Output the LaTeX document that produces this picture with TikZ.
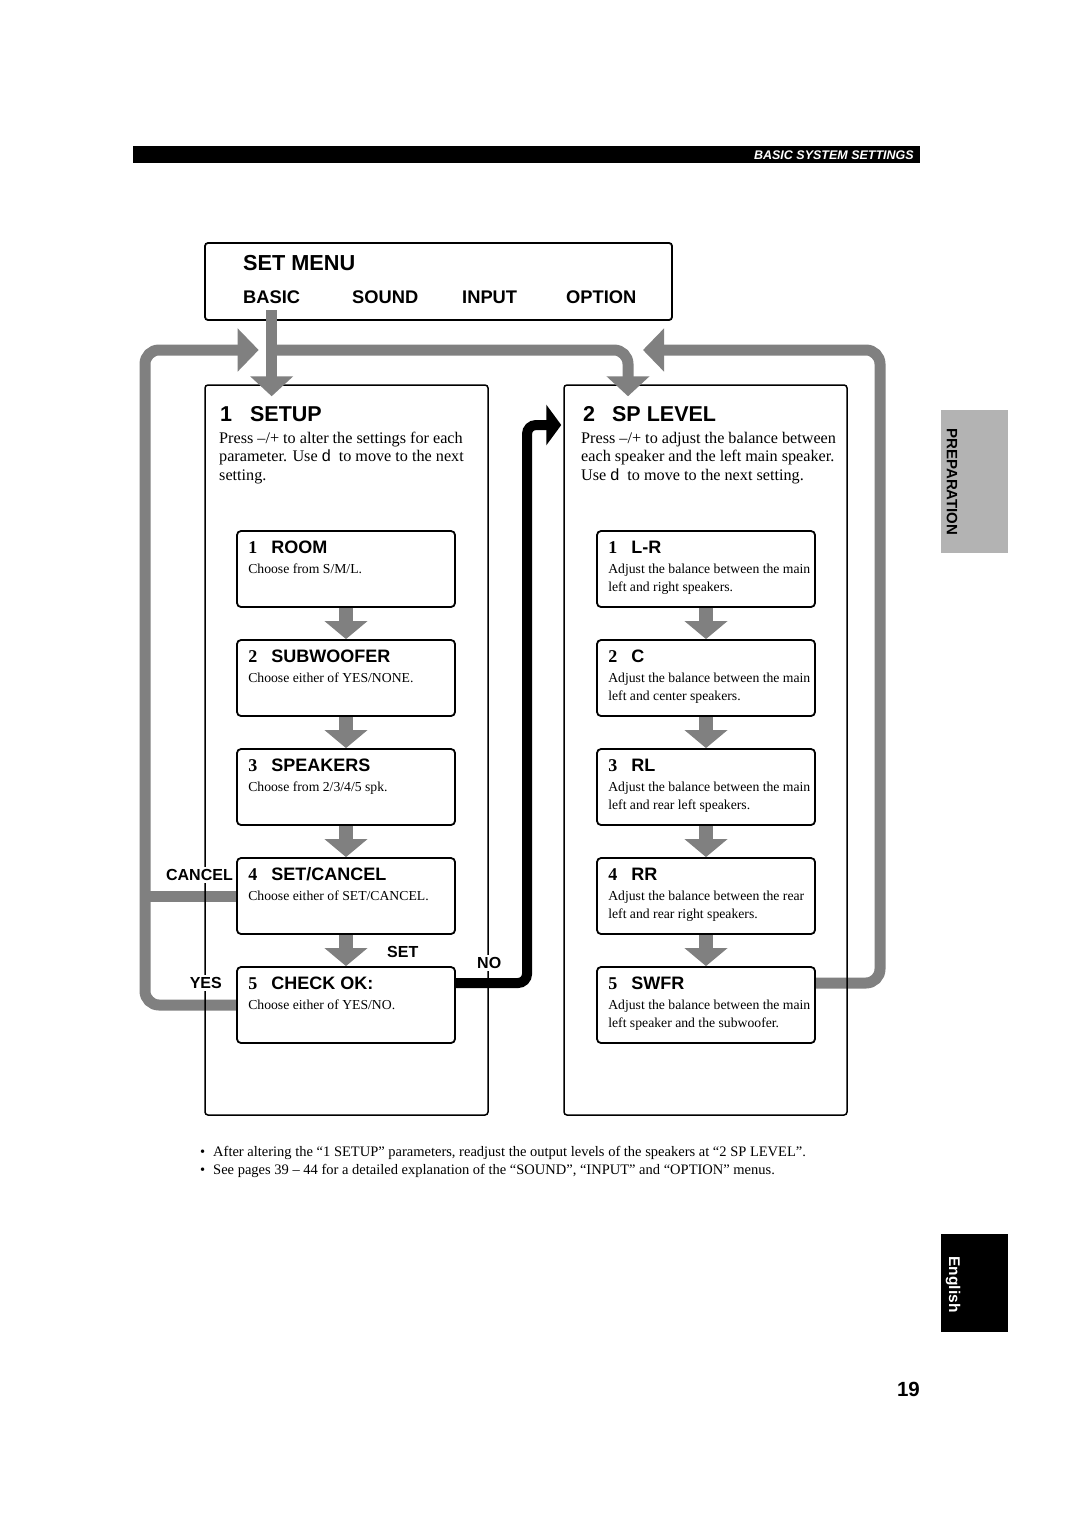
\documentclass[tikz,border=0pt]{standalone}
\usepackage{fontspec}
\setmainfont{Liberation Serif}
\setsansfont{Liberation Sans}
\usetikzlibrary{arrows.meta,calc}
\definecolor{linegray}{HTML}{808080}
\definecolor{tabgray}{HTML}{B3B3B3}
\pgfdeclarelayer{bglayer}
\pgfdeclarelayer{under}
\pgfsetlayers{bglayer,under,main}
\newcommand\fs[1]{\fontsize{#1}{#1}\selectfont}
\newcommand\mysubboxA[6]{%
  \node[sbox] (#1) at (#2,#3) {};
  \node[lbl] (#1-t) at ($(#1.north west)+(12,23.5)$) {\fs{18}\textbf{#4}\hspace{14pt}{\sffamily\bfseries #5}};
  \node[lbl, font=\fs{13.7}] (#1-a) at ($(#1.north west)+(12,43.5)$) {#6};
}
\newcommand\mysubboxB[7]{%
  \mysubboxA{#1}{#2}{#3}{#4}{#5}{#6}
  \node[lbl, font=\fs{13.7}] (#1-b) at ($(#1.north west)+(12,61.5)$) {#7};
}
\begin{document}
\begin{tikzpicture}[x=1pt,y=-1pt,
  bigbox/.style={draw, line width=1.5pt, rounded corners=3pt, minimum width=283pt, minimum height=730pt, inner sep=0pt},
  sbox/.style={draw, fill=white, line width=1.8pt, rounded corners=4pt, minimum width=218pt, minimum height=76pt, inner sep=0pt},
  lbl/.style={anchor=base west, inner sep=0pt},
  lble/.style={anchor=base east, inner sep=0pt},
  hb/.style={font=\sffamily\bfseries\fs{#1}},
  tag/.style={fill=white, inner xsep=1.5pt, inner ysep=2pt},
  gline/.style={draw=linegray, line width=11pt},
  gtip/.style={-{Triangle[width=42pt,length=21pt]}},
  garrow/.style={draw=linegray, line width=14pt, -{Triangle[width=42pt,length=18pt]}},
  blk/.style={draw=black, line width=10pt, rounded corners=9pt, -{Triangle[width=40pt,length=15pt]}},
]
\useasboundingbox (0,0) rectangle (1080,1528);
\begin{pgfonlayer}{bglayer}
\fill[white] (0,0) rectangle (1080,1528);
\end{pgfonlayer}

% header bar
\node[fill=black, inner sep=0pt, minimum width=787pt, minimum height=17pt, anchor=north west] (bar) at (133,146) {};
\node[lble, text=white, font=\sffamily\bfseries\itshape\fs{12.5}] (bartxt) at (914,159.5) {BASIC SYSTEM SETTINGS};

% set menu
\node[draw, line width=1.8pt, rounded corners=3pt, minimum width=467pt, minimum height=77pt, inner sep=0pt] (setmenu) at (438.5,281.5) {};
\node[lbl, hb=21.7] (smt) at (243,270) {SET MENU};
\node[lbl, hb=18.3] (basic) at (243,303) {BASIC};
\node[lbl, hb=18.3] (sound) at (352,303) {SOUND};
\node[lbl, hb=18.3] (input) at (462,303) {INPUT};
\node[lbl, hb=18.3] (option) at (566,303) {OPTION};

% helper coordinates
\coordinate (jy) at (0,350);
\coordinate (lx) at (145,0);
\coordinate (rx) at (880,0);
\coordinate (spx) at (628,0);
\coordinate (bx) at (527,0);
\coordinate (by) at (0,425);

% big boxes
\node[bigbox] (setup) at (346.5,750) {};
\node[bigbox] (splevel) at (705.5,750) {};
\node[lbl, hb=21.5] (setupt) at (220,421.5) {1\hspace{18pt}SETUP};
\node[lbl, hb=21.5] (splevelt) at (583,421.5) {2\hspace{17pt}SP LEVEL};
\node[lbl, font=\fs{16.2}] (su1) at (219,443) {Press –/+ to alter the settings for each};
\node[lbl, font=\fs{16.2}] (su2) at (219,461.5) {parameter. Use \textsf{d}\hspace{8pt}to move to the next};
\node[lbl, font=\fs{16.2}] (su3) at (219,480) {setting.};
\node[lbl, font=\fs{16.2}] (sp1) at (581,443) {Press –/+ to adjust the balance between};
\node[lbl, font=\fs{16.2}] (sp2) at (581,461.5) {each speaker and the left main speaker.};
\node[lbl, font=\fs{16.2}] (sp3) at (581,480) {Use \textsf{d}\hspace{8pt}to move to the next setting.};

% sub boxes
\mysubboxA{room}{346}{569}{1}{ROOM}{Choose from S/M/L.}
\mysubboxA{subwoofer}{346}{678}{2}{SUBWOOFER}{Choose either of YES/NONE.}
\mysubboxA{speakers}{346}{787}{3}{SPEAKERS}{Choose from 2/3/4/5 spk.}
\mysubboxA{setcancel}{346}{896}{4}{SET/CANCEL}{Choose either of SET/CANCEL.}
\mysubboxA{checkok}{346}{1005}{5}{CHECK OK:}{Choose either of YES/NO.}
\mysubboxB{lr}{706}{569}{1}{L-R}{Adjust the balance between the main}{left and right speakers.}
\mysubboxB{c}{706}{678}{2}{C}{Adjust the balance between the main}{left and center speakers.}
\mysubboxB{rl}{706}{787}{3}{RL}{Adjust the balance between the main}{left and rear left speakers.}
\mysubboxB{rr}{706}{896}{4}{RR}{Adjust the balance between the rear}{left and rear right speakers.}
\mysubboxB{swfr}{706}{1005}{5}{SWFR}{Adjust the balance between the main}{left speaker and the subwoofer.}

% loops (under the big box outlines)
\begin{pgfonlayer}{under}
\draw[gline, rounded corners=14pt, gtip] (checkok.west) -| (lx |- jy) -- ($(basic.south |- jy)+(-13,0)$);
\draw[gline] (setcancel.west) -- (setcancel.west -| lx);
\draw[gline, rounded corners=14pt, gtip] ($(swfr.east)+(0,-22)$) -| (rx |- jy) -- ($(spx |- jy)+(15,0)$);
\draw[blk, shorten >=2pt] ($(checkok.east)+(0,-22)$) -| (bx |- by) -- (splevel.west |- by);
\end{pgfonlayer}

% arrows from the menu
\draw[gline, -{Triangle[width=42pt,length=20pt]}, shorten <=7pt, shorten >=-12pt] (basic.south) -- (basic.south |- setup.north);
\draw[gline, rounded corners=14pt, -{Triangle[width=42pt,length=20pt]}, shorten >=-12pt] (basic.south |- jy) -| (spx |- splevel.north);

% arrows between steps
\draw[garrow] (room.south) -- (subwoofer.north);
\draw[garrow] (subwoofer.south) -- (speakers.north);
\draw[garrow] (speakers.south) -- (setcancel.north);
\draw[garrow] (setcancel.south) -- (checkok.north);
\draw[garrow] (lr.south) -- (c.north);
\draw[garrow] (c.south) -- (rl.north);
\draw[garrow] (rl.south) -- (rr.north);
\draw[garrow] (rr.south) -- (swfr.north);

% labels
\node[lble, hb=16, tag] (cancel) at (234.5,880.5) {CANCEL};
\node[lble, hb=16, tag] (yes) at (223.5,988.5) {YES};
\node[lbl, hb=16] (setlbl) at (387,957.5) {SET};
\node[lbl, hb=16, tag] (no) at (475.5,968.5) {NO};

% bullets
\node[lbl, font=\fs{14.5}] (b1d) at (200,1156) {•};
\node[lbl, font=\fs{14.5}] (b1) at (213,1156) {After altering the “1 SETUP” parameters, readjust the output levels of the speakers at “2 SP LEVEL”.};
\node[lbl, font=\fs{14.5}] (b2d) at (200,1174) {•};
\node[lbl, font=\fs{14.5}] (b2) at (213,1174) {See pages 39 – 44 for a detailed explanation of the “SOUND”, “INPUT” and “OPTION” menus.};

% tabs
\node[fill=tabgray, inner sep=0pt, minimum width=67pt, minimum height=143pt] (prep) at (974.5,481.5) {};
\node[hb=15, rotate=-90, inner sep=0pt] (preptxt) at (952,482) {PREPARATION};
\node[fill=black, inner sep=0pt, minimum width=67pt, minimum height=98pt] (eng) at (974.5,1283) {};
\node[hb=15.5, text=white, rotate=-90, inner sep=0pt] (engtxt) at (953,1284.5) {English};

% page number
\node[lble, hb=20.5] (pnum) at (920,1396.5) {19};
\end{tikzpicture}
\end{document}
